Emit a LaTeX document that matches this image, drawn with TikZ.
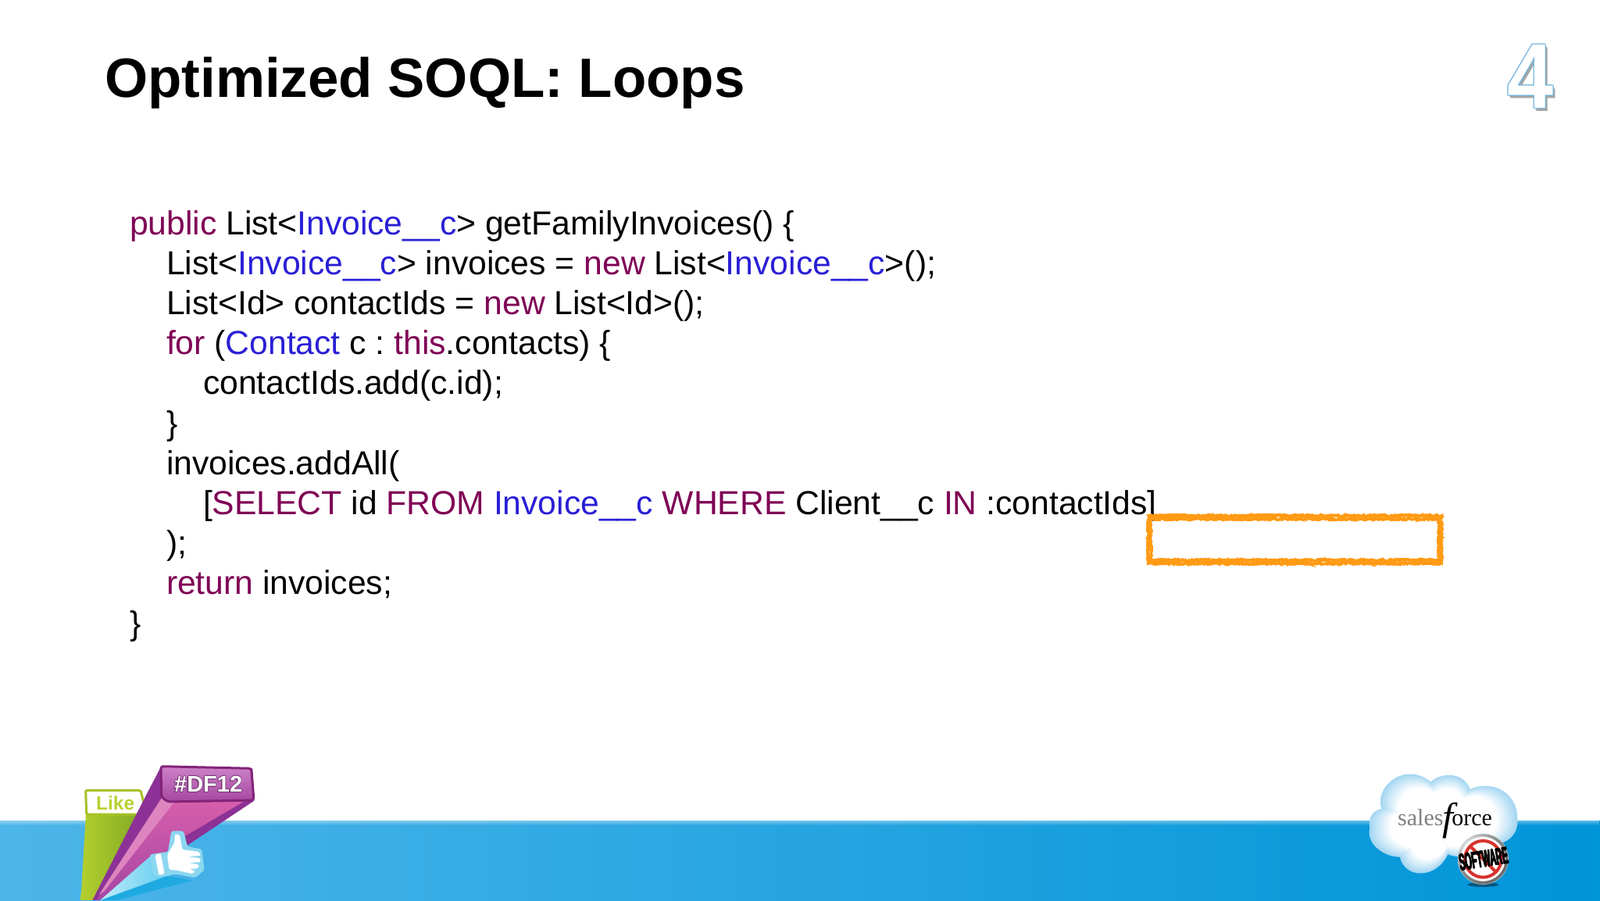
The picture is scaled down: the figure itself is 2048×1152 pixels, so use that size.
\documentclass[tikz,border=0pt]{standalone}
\usepackage{fontspec}
\setmainfont{Liberation Sans}
\newfontfamily\serifface{Liberation Serif}
\usetikzlibrary{decorations.pathmorphing,fadings,shadings}
\definecolor{kwc}{HTML}{7F0055}
\definecolor{tyc}{HTML}{2A1FD6}
\definecolor{orangeink}{HTML}{FF9A14}
\definecolor{bandl}{HTML}{4DB5E9}
\definecolor{bandr}{HTML}{0095D8}
\definecolor{fourline}{HTML}{6FB5DC}
\definecolor{gl}{HTML}{B4CF2E}
\definecolor{gr}{HTML}{7FA824}
\definecolor{gline}{HTML}{A5C328}
\definecolor{gtext}{HTML}{B9D232}
\definecolor{pdark}{HTML}{8C3296}
\definecolor{pmidt}{HTML}{D75FAA}
\definecolor{pmidb}{HTML}{A546A5}
\definecolor{plight}{HTML}{DE85C0}
\definecolor{ptopt}{HTML}{CD82C8}
\definecolor{ptopb}{HTML}{A546A0}
\definecolor{pline}{HTML}{822378}
\definecolor{ptext}{HTML}{6E326E}
\definecolor{bdeep}{HTML}{1EAAE1}
\definecolor{bpale}{HTML}{BEEBFA}
\definecolor{bmid}{HTML}{64CDF0}
\definecolor{thumbbg}{HTML}{8CD7F0}
\definecolor{cloudblue}{HTML}{A8D8F2}
\definecolor{nored}{HTML}{D7322D}
\newcommand{\kw}[1]{\textcolor{kwc}{#1}}
\newcommand{\ty}[1]{\textcolor{tyc}{#1}}
\frenchspacing
\tikzset{
  codeline/.style={anchor=base west,inner sep=0pt,outer sep=0pt,font=\fontsize{42.65}{42.65}\selectfont,text=black},
  titletext/.style={anchor=base west,inner sep=0pt,font=\fontsize{70.9}{70.9}\selectfont\bfseries},
  rough/.style={draw=orangeink,line width=#1,decorate,decoration={random steps,segment length=2.5pt,amplitude=1.6pt}},
  logotext/.style={inner sep=0pt,font=\bfseries},
  fourtext/.style={inner sep=0pt,font=\fontsize{118}{118}\selectfont\bfseries},
}
\newcommand{\fourglyph}{\scalebox{.9}[1]{4}}
\newcommand{\softglyph}{\scalebox{.37}[1]{SOFTWARE}}
\begin{document}
\begin{tikzpicture}[x=1pt,y=-1pt]
\useasboundingbox (0,0) rectangle (2048,1152);
\fill[white] (0,0) rectangle (2048,1152);
% band
\shade[left color=bandl,right color=bandr] (0,1050) rectangle (2048,1152);
\fill[white,path fading=south] (0,1040) rectangle (2048,1056);
% title
\node[titletext] (title) at (134,124.5) {Optimized SOQL: Loops};
% section number
\foreach \dx/\dy in {2/3,3/4}{\node[fourtext,text=black!35] at (1959+\dx,98+\dy) {\fourglyph};}
\foreach \dx/\dy in {-1.2/0,1.2/0,0/-1.2,0/1.2,-.8/-.8,.8/.8,-.8/.8,.8/-.8}{\node[fourtext,text=fourline] at (1959+\dx,98+\dy) {\fourglyph};}
\node[fourtext,text=white] (four) at (1959,98) {\fourglyph};
% code
\node[codeline] (c1) at (166,300) {\kw{public} List<\ty{Invoice\_\_c}> getFamilyInvoices() \{};
\node[codeline] (c2) at (213,351.2) {List<\ty{Invoice\_\_c}> invoices = \kw{new} List<\ty{Invoice\_\_c}>();};
\node[codeline] (c3) at (213,402.4) {List<Id> contactIds = \kw{new} List<Id>();};
\node[codeline] (c4) at (213,453.6) {\kw{for} (\ty{Contact} c : \kw{this}.contacts) \{};
\node[codeline] (c5) at (260,504.8) {contactIds.add(c.id);};
\node[codeline] (c6) at (213,556) {\}};
\node[codeline] (c7) at (213,607.2) {invoices.addAll(};
\node[codeline] (c8) at (260,658.4) {[\kw{SELECT} id \kw{FROM} \ty{Invoice\_\_c} \kw{WHERE} Client\_\_c \kw{IN} :contactIds]};
\node[codeline] (c9) at (213,709.6) {);};
\node[codeline] (c10) at (213,760.8) {\kw{return} invoices;};
\node[codeline] (c11) at (166,812) {\}};
% highlight
\foreach \s in {1,2,3}{
  \draw[rough=3pt] (1470,660) -- (1845,660) -- (1845,721) -- (1470,721) -- cycle;
  \draw[rough=3pt] (1470,664) -- (1845,664);
  \draw[rough=3pt] (1842,660) -- (1842,721);
  \draw[rough=3pt] (1470,717) -- (1845,717);
  \draw[rough=3pt] (1473,660) -- (1473,721);
}
% DF12 logo (zoom coordinates)
\begin{scope}[shift={(60,950)},x=0.3333pt,y=-0.3333pt]
  % green
  \shade[left color=gl,right color=gr]
     (150,275) -- (130,606) -- (178,606) -- (372,275) -- cycle;
  \fill[rounded corners=2pt,fill=white,draw=gline,line width=3pt] (149,184) -- (360,184) -- (381,268) -- (370,276) -- (152,276) -- cycle;
  \node[logotext,font=\fontsize{24.5}{24.5}\selectfont\bfseries,text=gtext] (like) at (263,232) {Like};
  % purple
  \fill[pdark] (380,205) -- (440,90) -- (790,100) -- (795,225) -- (540,395) -- (210,606) -- (175,606) -- cycle;
  \shade[top color=pmidt,bottom color=pmidb] (440,215) -- (755,228) -- (530,360) -- (225,606) -- (190,606) -- cycle;
  \fill[plight] (440,215) -- (490,228) -- (222,570) -- (200,585) -- cycle;
  \shade[rounded corners=3pt,top color=ptopt,bottom color=ptopb,draw=pline,line width=3pt] (438,92) -- (785,100) -- (795,222) -- (465,228) -- (440,210) -- cycle;
  \foreach \dx/\dy in {-2/0,2/0,0/-2,0/2,-4/4}{\node[logotext,font=\fontsize{29}{29}\selectfont\bfseries,text=ptext] at (620+\dx,160+\dy) {\#DF12};}
  \node[logotext,font=\fontsize{29}{29}\selectfont\bfseries,text=white] (df) at (620,160) {\#DF12};
  % blue beam
  \fill[bdeep] (205,606) -- (400,440) -- (470,515) -- (560,530) -- (270,606) -- cycle;
  \shade[left color=bpale,right color=bmid] (205,606) -- (400,435) -- (455,515) -- cycle;
  % thumb
  \fill[thumbbg,rounded corners=3pt] (395,430) -- (465,420) -- (478,340) -- (525,340) -- (540,400) -- (595,410) -- (605,490) -- (570,520) -- (490,505) -- (460,515) -- (410,515) -- cycle;
  \fill[white,rounded corners=2pt] (415,432) -- (437,425) -- (452,505) -- (430,510) -- cycle;
  \fill[white,rounded corners=2pt] (462,432) -- (490,385) -- (492,352) -- (510,355) -- (520,412) -- (585,420) -- (590,435) -- (540,438) -- (590,445) -- (590,460) -- (545,462) -- (585,470) -- (580,485) -- (548,485) -- (570,495) -- (560,505) -- (495,490) -- (470,490) -- cycle;
\end{scope}
% salesforce cloud (zoom coordinates)
\begin{scope}[shift={(1720,960)},x=0.3333pt,y=-0.3333pt]
  \foreach \k/\c in {1/0,0.96/15,0.92/30,0.88/45,0.84/60,0.80/75,0.76/90,0.72/100}{
    \fill[white!\c!cloudblue,shift={(385,280)},xscale=\k,yscale=\k]
      (-50,-158) .. controls (-15,-195) and (75,-200) .. (100,-130)
      .. controls (170,-165) and (280,-130) .. (282,-20)
      .. controls (290,50) and (230,90) .. (170,80)
      .. controls (130,120) and (60,140) .. (15,120)
      .. controls (-30,215) and (-150,215) .. (-170,130)
      .. controls (-230,130) and (-300,80) .. (-285,20)
      .. controls (-295,-30) and (-265,-50) .. (-240,-55)
      .. controls (-270,-140) and (-150,-240) .. (-50,-158) -- cycle;
  }
  \node[anchor=base west,inner sep=0pt,font=\serifface\fontsize{30}{30}\selectfont] (sf) at (207,288)
    {\textcolor{black!50}{sales}\kern-1pt\raisebox{-6pt}{\fontsize{50}{50}\selectfont\itshape f}\kern-2pt orce};
  % button
  \fill[black!60!bandr,opacity=.7] (535,516) ellipse (60 and 9);
  \shade[ball color=white,draw=black!15] (535,418) circle (97);
  \fill[white] (535,418) circle (85);
  \draw[nored,line width=4pt] (535,418) circle (70);
  \draw[nored,line width=4pt] (485,368) -- (585,468);
  \foreach \dx/\dy in {-1.5/0,1.5/0,0/-1.5,0/1.5}{\node[inner sep=0pt,rotate=9,font=\fontsize{30}{30}\selectfont\bfseries,text=black] at (537+\dx,418+\dy) {\softglyph};}
  \node[inner sep=0pt,rotate=9,font=\fontsize{30}{30}\selectfont\bfseries,text=black] (soft) at (537,418) {\softglyph};
\end{scope}
\end{tikzpicture}
\end{document}
